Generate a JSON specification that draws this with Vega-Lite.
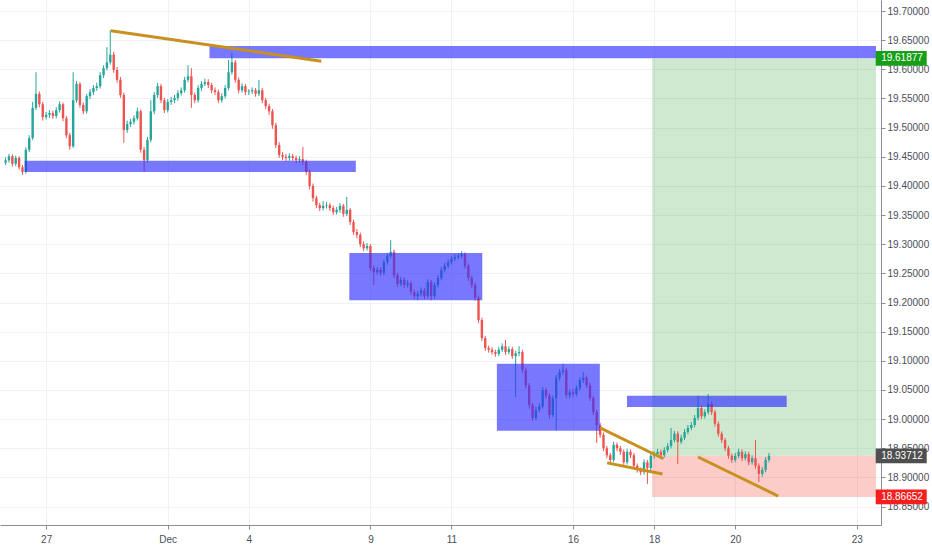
{
  "$schema": "https://vega.github.io/schema/vega-lite/v6.json",
  "width": 881,
  "height": 525,
  "autosize": "none",
  "padding": {"left": 0, "top": 0, "right": 51, "bottom": 25},
  "background": "#ffffff",
  "config": {"view": {"stroke": null}, "font": "Liberation Sans", "axis": {"labelOverlap": false, "labelFlush": false}},
  "datasets": {
    "candles": [
      {"t":-1,"o":19.440,"h":19.449,"l":19.436,"c":19.444},
      {"t":-0.917,"o":19.444,"h":19.455,"l":19.440,"c":19.451},
      {"t":-0.833,"o":19.451,"h":19.454,"l":19.433,"c":19.438},
      {"t":-0.75,"o":19.438,"h":19.452,"l":19.434,"c":19.448},
      {"t":-0.667,"o":19.448,"h":19.451,"l":19.428,"c":19.432},
      {"t":-0.583,"o":19.432,"h":19.436,"l":19.419,"c":19.424},
      {"t":-0.5,"o":19.424,"h":19.466,"l":19.421,"c":19.462},
      {"t":-0.417,"o":19.462,"h":19.487,"l":19.458,"c":19.482},
      {"t":-0.333,"o":19.482,"h":19.544,"l":19.479,"c":19.534},
      {"t":-0.25,"o":19.534,"h":19.595,"l":19.530,"c":19.558},
      {"t":-0.167,"o":19.558,"h":19.562,"l":19.535,"c":19.540},
      {"t":-0.083,"o":19.540,"h":19.544,"l":19.512,"c":19.518},
      {"t":0,"o":19.518,"h":19.527,"l":19.514,"c":19.522},
      {"t":0.083,"o":19.522,"h":19.530,"l":19.517,"c":19.525},
      {"t":0.167,"o":19.525,"h":19.529,"l":19.515,"c":19.520},
      {"t":0.25,"o":19.520,"h":19.535,"l":19.516,"c":19.530},
      {"t":0.333,"o":19.530,"h":19.545,"l":19.526,"c":19.540},
      {"t":0.417,"o":19.540,"h":19.543,"l":19.511,"c":19.516},
      {"t":0.5,"o":19.516,"h":19.520,"l":19.482,"c":19.487},
      {"t":0.583,"o":19.487,"h":19.491,"l":19.462,"c":19.468},
      {"t":0.667,"o":19.468,"h":19.595,"l":19.465,"c":19.547},
      {"t":0.75,"o":19.547,"h":19.580,"l":19.543,"c":19.575},
      {"t":0.833,"o":19.575,"h":19.578,"l":19.534,"c":19.539},
      {"t":0.917,"o":19.539,"h":19.543,"l":19.523,"c":19.528},
      {"t":1,"o":19.528,"h":19.558,"l":19.524,"c":19.554},
      {"t":1.083,"o":19.554,"h":19.566,"l":19.549,"c":19.561},
      {"t":1.167,"o":19.561,"h":19.573,"l":19.556,"c":19.568},
      {"t":1.25,"o":19.568,"h":19.577,"l":19.563,"c":19.571},
      {"t":1.333,"o":19.571,"h":19.595,"l":19.567,"c":19.590},
      {"t":1.417,"o":19.590,"h":19.607,"l":19.585,"c":19.602},
      {"t":1.5,"o":19.602,"h":19.638,"l":19.598,"c":19.612},
      {"t":1.583,"o":19.612,"h":19.667,"l":19.608,"c":19.625},
      {"t":1.667,"o":19.625,"h":19.630,"l":19.594,"c":19.599},
      {"t":1.75,"o":19.599,"h":19.604,"l":19.577,"c":19.582},
      {"t":1.833,"o":19.582,"h":19.587,"l":19.551,"c":19.556},
      {"t":1.917,"o":19.556,"h":19.560,"l":19.474,"c":19.496},
      {"t":2,"o":19.496,"h":19.512,"l":19.491,"c":19.506},
      {"t":2.083,"o":19.506,"h":19.515,"l":19.501,"c":19.510},
      {"t":2.167,"o":19.510,"h":19.521,"l":19.505,"c":19.516},
      {"t":2.25,"o":19.516,"h":19.534,"l":19.512,"c":19.528},
      {"t":2.333,"o":19.528,"h":19.531,"l":19.457,"c":19.462},
      {"t":2.417,"o":19.462,"h":19.467,"l":19.424,"c":19.444},
      {"t":2.5,"o":19.444,"h":19.484,"l":19.440,"c":19.479},
      {"t":2.583,"o":19.479,"h":19.547,"l":19.475,"c":19.528},
      {"t":2.667,"o":19.528,"h":19.561,"l":19.523,"c":19.556},
      {"t":2.75,"o":19.556,"h":19.577,"l":19.551,"c":19.571},
      {"t":2.833,"o":19.571,"h":19.575,"l":19.542,"c":19.547},
      {"t":2.917,"o":19.547,"h":19.551,"l":19.525,"c":19.530},
      {"t":3,"o":19.530,"h":19.549,"l":19.526,"c":19.544},
      {"t":3.083,"o":19.544,"h":19.553,"l":19.539,"c":19.547},
      {"t":3.167,"o":19.547,"h":19.556,"l":19.542,"c":19.551},
      {"t":3.25,"o":19.551,"h":19.564,"l":19.546,"c":19.559},
      {"t":3.333,"o":19.559,"h":19.569,"l":19.555,"c":19.564},
      {"t":3.417,"o":19.564,"h":19.587,"l":19.560,"c":19.582},
      {"t":3.5,"o":19.582,"h":19.607,"l":19.578,"c":19.588},
      {"t":3.583,"o":19.588,"h":19.602,"l":19.534,"c":19.556},
      {"t":3.667,"o":19.556,"h":19.560,"l":19.542,"c":19.547},
      {"t":3.75,"o":19.547,"h":19.573,"l":19.543,"c":19.568},
      {"t":3.833,"o":19.568,"h":19.580,"l":19.563,"c":19.575},
      {"t":3.917,"o":19.575,"h":19.584,"l":19.571,"c":19.578},
      {"t":4,"o":19.578,"h":19.583,"l":19.568,"c":19.573},
      {"t":4.083,"o":19.573,"h":19.577,"l":19.559,"c":19.564},
      {"t":4.167,"o":19.564,"h":19.569,"l":19.556,"c":19.561},
      {"t":4.25,"o":19.561,"h":19.565,"l":19.542,"c":19.547},
      {"t":4.333,"o":19.547,"h":19.559,"l":19.543,"c":19.554},
      {"t":4.417,"o":19.554,"h":19.573,"l":19.550,"c":19.568},
      {"t":4.5,"o":19.568,"h":19.616,"l":19.564,"c":19.595},
      {"t":4.583,"o":19.595,"h":19.628,"l":19.591,"c":19.612},
      {"t":4.667,"o":19.612,"h":19.616,"l":19.577,"c":19.582},
      {"t":4.75,"o":19.582,"h":19.586,"l":19.559,"c":19.564},
      {"t":4.833,"o":19.564,"h":19.576,"l":19.560,"c":19.571},
      {"t":4.917,"o":19.571,"h":19.575,"l":19.556,"c":19.561},
      {"t":5,"o":19.561,"h":19.566,"l":19.556,"c":19.562},
      {"t":5.083,"o":19.562,"h":19.569,"l":19.558,"c":19.564},
      {"t":5.167,"o":19.564,"h":19.568,"l":19.553,"c":19.558},
      {"t":5.25,"o":19.558,"h":19.582,"l":19.554,"c":19.564},
      {"t":5.333,"o":19.564,"h":19.568,"l":19.542,"c":19.547},
      {"t":5.417,"o":19.547,"h":19.551,"l":19.532,"c":19.537},
      {"t":5.5,"o":19.537,"h":19.541,"l":19.522,"c":19.528},
      {"t":5.583,"o":19.528,"h":19.532,"l":19.498,"c":19.504},
      {"t":5.667,"o":19.504,"h":19.508,"l":19.465,"c":19.470},
      {"t":5.75,"o":19.470,"h":19.475,"l":19.448,"c":19.453},
      {"t":5.833,"o":19.453,"h":19.458,"l":19.444,"c":19.450},
      {"t":5.917,"o":19.450,"h":19.455,"l":19.442,"c":19.448},
      {"t":6,"o":19.448,"h":19.456,"l":19.443,"c":19.451},
      {"t":6.083,"o":19.451,"h":19.455,"l":19.443,"c":19.448},
      {"t":6.167,"o":19.448,"h":19.452,"l":19.439,"c":19.444},
      {"t":6.25,"o":19.444,"h":19.451,"l":19.440,"c":19.446},
      {"t":6.333,"o":19.446,"h":19.467,"l":19.436,"c":19.441},
      {"t":6.417,"o":19.441,"h":19.445,"l":19.419,"c":19.424},
      {"t":6.5,"o":19.424,"h":19.428,"l":19.394,"c":19.400},
      {"t":6.583,"o":19.400,"h":19.404,"l":19.373,"c":19.379},
      {"t":6.667,"o":19.379,"h":19.383,"l":19.362,"c":19.367},
      {"t":6.75,"o":19.367,"h":19.371,"l":19.357,"c":19.362},
      {"t":6.833,"o":19.362,"h":19.374,"l":19.358,"c":19.366},
      {"t":6.917,"o":19.366,"h":19.372,"l":19.361,"c":19.367},
      {"t":7,"o":19.367,"h":19.371,"l":19.357,"c":19.362},
      {"t":7.083,"o":19.362,"h":19.366,"l":19.350,"c":19.355},
      {"t":7.167,"o":19.355,"h":19.364,"l":19.351,"c":19.359},
      {"t":7.25,"o":19.359,"h":19.370,"l":19.354,"c":19.366},
      {"t":7.333,"o":19.366,"h":19.369,"l":19.347,"c":19.352},
      {"t":7.417,"o":19.352,"h":19.381,"l":19.348,"c":19.359},
      {"t":7.5,"o":19.359,"h":19.362,"l":19.333,"c":19.338},
      {"t":7.583,"o":19.338,"h":19.342,"l":19.316,"c":19.321},
      {"t":7.667,"o":19.321,"h":19.326,"l":19.310,"c":19.316},
      {"t":7.75,"o":19.316,"h":19.320,"l":19.295,"c":19.300},
      {"t":7.833,"o":19.300,"h":19.305,"l":19.288,"c":19.293},
      {"t":7.917,"o":19.293,"h":19.302,"l":19.289,"c":19.297},
      {"t":8,"o":19.297,"h":19.300,"l":19.254,"c":19.259},
      {"t":8.083,"o":19.259,"h":19.263,"l":19.230,"c":19.252},
      {"t":8.167,"o":19.252,"h":19.261,"l":19.247,"c":19.256},
      {"t":8.25,"o":19.256,"h":19.260,"l":19.246,"c":19.251},
      {"t":8.333,"o":19.251,"h":19.274,"l":19.247,"c":19.269},
      {"t":8.417,"o":19.269,"h":19.285,"l":19.265,"c":19.280},
      {"t":8.5,"o":19.280,"h":19.307,"l":19.276,"c":19.287},
      {"t":8.583,"o":19.287,"h":19.291,"l":19.242,"c":19.247},
      {"t":8.667,"o":19.247,"h":19.251,"l":19.227,"c":19.232},
      {"t":8.75,"o":19.232,"h":19.244,"l":19.228,"c":19.239},
      {"t":8.833,"o":19.239,"h":19.243,"l":19.225,"c":19.230},
      {"t":8.917,"o":19.230,"h":19.238,"l":19.226,"c":19.233},
      {"t":9,"o":19.233,"h":19.237,"l":19.213,"c":19.218},
      {"t":9.083,"o":19.218,"h":19.222,"l":19.206,"c":19.211},
      {"t":9.167,"o":19.211,"h":19.220,"l":19.204,"c":19.215},
      {"t":9.25,"o":19.215,"h":19.226,"l":19.210,"c":19.221},
      {"t":9.333,"o":19.221,"h":19.225,"l":19.206,"c":19.211},
      {"t":9.417,"o":19.211,"h":19.240,"l":19.207,"c":19.235},
      {"t":9.5,"o":19.235,"h":19.239,"l":19.204,"c":19.211},
      {"t":9.583,"o":19.211,"h":19.235,"l":19.207,"c":19.230},
      {"t":9.667,"o":19.230,"h":19.247,"l":19.226,"c":19.242},
      {"t":9.75,"o":19.242,"h":19.261,"l":19.238,"c":19.256},
      {"t":9.833,"o":19.256,"h":19.268,"l":19.252,"c":19.263},
      {"t":9.917,"o":19.263,"h":19.274,"l":19.259,"c":19.269},
      {"t":10,"o":19.269,"h":19.280,"l":19.265,"c":19.275},
      {"t":10.083,"o":19.275,"h":19.283,"l":19.271,"c":19.278},
      {"t":10.167,"o":19.278,"h":19.285,"l":19.274,"c":19.280},
      {"t":10.25,"o":19.280,"h":19.288,"l":19.276,"c":19.283},
      {"t":10.333,"o":19.283,"h":19.286,"l":19.258,"c":19.263},
      {"t":10.417,"o":19.263,"h":19.267,"l":19.237,"c":19.242},
      {"t":10.5,"o":19.242,"h":19.246,"l":19.225,"c":19.230},
      {"t":10.583,"o":19.230,"h":19.234,"l":19.203,"c":19.208},
      {"t":10.667,"o":19.208,"h":19.212,"l":19.165,"c":19.170},
      {"t":10.75,"o":19.170,"h":19.174,"l":19.134,"c":19.139},
      {"t":10.833,"o":19.139,"h":19.143,"l":19.117,"c":19.122},
      {"t":10.917,"o":19.122,"h":19.126,"l":19.114,"c":19.119},
      {"t":11,"o":19.119,"h":19.123,"l":19.111,"c":19.115},
      {"t":11.083,"o":19.115,"h":19.119,"l":19.107,"c":19.112},
      {"t":11.167,"o":19.112,"h":19.124,"l":19.108,"c":19.119},
      {"t":11.25,"o":19.119,"h":19.130,"l":19.115,"c":19.125},
      {"t":11.333,"o":19.125,"h":19.136,"l":19.110,"c":19.115},
      {"t":11.417,"o":19.115,"h":19.125,"l":19.111,"c":19.120},
      {"t":11.5,"o":19.120,"h":19.124,"l":19.103,"c":19.108},
      {"t":11.583,"o":19.108,"h":19.117,"l":19.038,"c":19.113},
      {"t":11.667,"o":19.113,"h":19.125,"l":19.108,"c":19.115},
      {"t":11.75,"o":19.115,"h":19.119,"l":19.079,"c":19.084},
      {"t":11.833,"o":19.084,"h":19.088,"l":19.052,"c":19.058},
      {"t":11.917,"o":19.058,"h":19.062,"l":19.018,"c":19.024},
      {"t":12,"o":19.024,"h":19.028,"l":18.997,"c":19.002},
      {"t":12.083,"o":19.002,"h":19.021,"l":18.998,"c":19.016},
      {"t":12.167,"o":19.016,"h":19.027,"l":19.012,"c":19.022},
      {"t":12.25,"o":19.022,"h":19.055,"l":19.018,"c":19.050},
      {"t":12.333,"o":19.050,"h":19.054,"l":19.035,"c":19.040},
      {"t":12.417,"o":19.040,"h":19.044,"l":19.001,"c":19.007},
      {"t":12.5,"o":19.007,"h":19.041,"l":19.003,"c":19.036},
      {"t":12.583,"o":19.036,"h":19.076,"l":18.981,"c":19.071},
      {"t":12.667,"o":19.071,"h":19.086,"l":19.066,"c":19.081},
      {"t":12.75,"o":19.081,"h":19.095,"l":19.076,"c":19.084},
      {"t":12.833,"o":19.084,"h":19.088,"l":19.036,"c":19.041},
      {"t":12.917,"o":19.041,"h":19.051,"l":19.036,"c":19.046},
      {"t":13,"o":19.046,"h":19.051,"l":19.038,"c":19.043},
      {"t":13.083,"o":19.043,"h":19.058,"l":19.039,"c":19.053},
      {"t":13.167,"o":19.053,"h":19.072,"l":19.049,"c":19.067},
      {"t":13.25,"o":19.067,"h":19.081,"l":19.062,"c":19.071},
      {"t":13.333,"o":19.071,"h":19.075,"l":19.053,"c":19.058},
      {"t":13.417,"o":19.058,"h":19.062,"l":19.031,"c":19.036},
      {"t":13.5,"o":19.036,"h":19.040,"l":19.007,"c":19.012},
      {"t":13.583,"o":19.012,"h":19.016,"l":18.959,"c":18.990},
      {"t":13.667,"o":18.990,"h":18.994,"l":18.968,"c":18.973},
      {"t":13.75,"o":18.973,"h":18.977,"l":18.945,"c":18.950},
      {"t":13.833,"o":18.950,"h":18.954,"l":18.933,"c":18.938},
      {"t":13.917,"o":18.938,"h":18.942,"l":18.925,"c":18.930},
      {"t":14,"o":18.930,"h":18.961,"l":18.926,"c":18.956},
      {"t":14.083,"o":18.956,"h":18.960,"l":18.945,"c":18.950},
      {"t":14.167,"o":18.950,"h":18.954,"l":18.939,"c":18.944},
      {"t":14.25,"o":18.944,"h":18.948,"l":18.921,"c":18.926},
      {"t":14.333,"o":18.926,"h":18.949,"l":18.922,"c":18.944},
      {"t":14.417,"o":18.944,"h":18.948,"l":18.933,"c":18.938},
      {"t":14.5,"o":18.938,"h":18.942,"l":18.915,"c":18.920},
      {"t":14.583,"o":18.920,"h":18.924,"l":18.908,"c":18.913},
      {"t":14.667,"o":18.913,"h":18.917,"l":18.904,"c":18.909},
      {"t":14.75,"o":18.909,"h":18.931,"l":18.905,"c":18.926},
      {"t":14.833,"o":18.926,"h":18.930,"l":18.889,"c":18.916},
      {"t":14.917,"o":18.916,"h":18.942,"l":18.912,"c":18.937},
      {"t":15,"o":18.937,"h":18.945,"l":18.932,"c":18.940},
      {"t":15.083,"o":18.940,"h":18.949,"l":18.935,"c":18.944},
      {"t":15.167,"o":18.944,"h":18.948,"l":18.933,"c":18.938},
      {"t":15.25,"o":18.938,"h":18.952,"l":18.934,"c":18.947},
      {"t":15.333,"o":18.947,"h":18.959,"l":18.943,"c":18.954},
      {"t":15.417,"o":18.954,"h":18.985,"l":18.950,"c":18.964},
      {"t":15.5,"o":18.964,"h":18.980,"l":18.960,"c":18.975},
      {"t":15.583,"o":18.975,"h":18.979,"l":18.923,"c":18.961},
      {"t":15.667,"o":18.961,"h":18.973,"l":18.957,"c":18.968},
      {"t":15.75,"o":18.968,"h":18.983,"l":18.964,"c":18.978},
      {"t":15.833,"o":18.978,"h":18.990,"l":18.974,"c":18.985},
      {"t":15.917,"o":18.985,"h":18.995,"l":18.981,"c":18.990},
      {"t":16,"o":18.990,"h":19.007,"l":18.986,"c":19.002},
      {"t":16.083,"o":19.002,"h":19.040,"l":18.998,"c":19.019},
      {"t":16.167,"o":19.019,"h":19.023,"l":19.000,"c":19.005},
      {"t":16.25,"o":19.005,"h":19.017,"l":19.001,"c":19.012},
      {"t":16.333,"o":19.012,"h":19.043,"l":19.008,"c":19.026},
      {"t":16.417,"o":19.026,"h":19.030,"l":19.007,"c":19.012},
      {"t":16.5,"o":19.012,"h":19.016,"l":18.987,"c":18.992},
      {"t":16.583,"o":18.992,"h":18.996,"l":18.970,"c":18.975},
      {"t":16.667,"o":18.975,"h":18.979,"l":18.959,"c":18.964},
      {"t":16.75,"o":18.964,"h":18.968,"l":18.945,"c":18.950},
      {"t":16.833,"o":18.950,"h":18.954,"l":18.932,"c":18.937},
      {"t":16.917,"o":18.937,"h":18.941,"l":18.925,"c":18.930},
      {"t":17,"o":18.930,"h":18.942,"l":18.926,"c":18.937},
      {"t":17.083,"o":18.937,"h":18.949,"l":18.933,"c":18.944},
      {"t":17.167,"o":18.944,"h":18.948,"l":18.928,"c":18.933},
      {"t":17.25,"o":18.933,"h":18.945,"l":18.929,"c":18.940},
      {"t":17.333,"o":18.940,"h":18.944,"l":18.921,"c":18.926},
      {"t":17.417,"o":18.926,"h":18.938,"l":18.922,"c":18.933},
      {"t":17.5,"o":18.933,"h":18.964,"l":18.915,"c":18.920},
      {"t":17.583,"o":18.920,"h":18.924,"l":18.892,"c":18.906},
      {"t":17.667,"o":18.906,"h":18.918,"l":18.901,"c":18.913},
      {"t":17.75,"o":18.913,"h":18.935,"l":18.909,"c":18.930},
      {"t":17.833,"o":18.930,"h":18.942,"l":18.926,"c":18.937}
    ],
    "position": [
      {"x1":14.95,"x2":20.473,"p1":18.93712,"p2":19.61877,"kind":"target"},
      {"x1":14.95,"x2":20.473,"p1":18.86652,"p2":18.93712,"kind":"stop"}
    ],
    "boxes": [
      {"x1":4.03,"x2":20.473,"p1":19.619,"p2":19.640},
      {"x1":-0.53,"x2":7.64,"p1":19.424,"p2":19.443},
      {"x1":7.48,"x2":10.76,"p1":19.204,"p2":19.285},
      {"x1":11.12,"x2":13.66,"p1":18.980,"p2":19.095},
      {"x1":14.33,"x2":18.27,"p1":19.021,"p2":19.040}
    ],
    "trend": [
      {"x1":1.595,"p1":19.666,"x2":6.79,"p2":19.614},
      {"x1":13.668,"p1":18.985,"x2":15.23,"p2":18.932},
      {"x1":13.84,"p1":18.925,"x2":15.205,"p2":18.906},
      {"x1":16.083,"p1":18.935,"x2":18.06,"p2":18.868}
    ],
    "badges": [
      {"p":19.61877,"label":"19.61877","col":"#17a017"},
      {"p":18.93712,"label":"18.93712","col":"#4f4f4f"},
      {"p":18.86652,"label":"18.86652","col":"#f71e1e"}
    ]
  },
  "layer": [
    {
      "data": {"name": "position"},
      "mark": {"type": "rect"},
      "encoding": {
        "x": {"field": "x1", "type": "quantitative",
          "scale": {"domain": [-1.0146, 20.473], "nice": false, "zero": false},
          "axis": {"orient": "bottom", "values": [0, 3, 5, 8, 10, 13, 15, 17, 20], "tickCount": 30,
            "labelExpr": "datum.value == 0 ? '27' : datum.value == 3 ? 'Dec' : datum.value == 5 ? '4' : datum.value == 8 ? '9' : datum.value == 10 ? '11' : datum.value == 13 ? '16' : datum.value == 15 ? '18' : datum.value == 17 ? '20' : '23'",
            "title": null, "grid": true, "gridColor": "#eef1f6", "gridWidth": 1,
            "domainColor": "#8a8d96", "tickColor": "#8a8d96", "tickSize": 4,
            "labelColor": "#4a4e5a", "labelFontSize": 10, "labelPadding": 5, "labelFlush": false}},
        "x2": {"field": "x2"},
        "y": {"field": "p1", "type": "quantitative",
          "scale": {"domain": [18.8184, 19.7189], "nice": false, "zero": false},
          "axis": {"orient": "right", "values": [18.85, 18.9, 18.95, 19.0, 19.05, 19.1, 19.15, 19.2, 19.25, 19.3, 19.35, 19.4, 19.45, 19.5, 19.55, 19.6, 19.65, 19.7], "tickCount": 40,
            "format": ".5f", "title": null, "grid": true, "gridColor": "#eef1f6", "gridWidth": 1,
            "domainColor": "#8a8d96", "tickColor": "#8a8d96", "tickSize": 4,
            "labelColor": "#4a4e5a", "labelFontSize": 10, "labelPadding": 2, "labelFlush": false, "labelOverlap": false}},
        "y2": {"field": "p2"},
        "color": {"field": "kind", "type": "nominal", "scale": {"domain": ["target", "stop"], "range": ["#4caf50", "#f44336"]}, "legend": null},
        "opacity": {"value": 0.27}
      }
    },
    {
      "mark": {"type": "rule", "color": "#ef5350", "strokeDash": [1, 2], "strokeWidth": 1, "opacity": 0.9},
      "encoding": {"y": {"datum": 18.93712, "type": "quantitative"}}
    },
    {
      "data": {"name": "candles"},
      "mark": {"type": "rule", "strokeWidth": 1},
      "encoding": {
        "x": {"field": "t", "type": "quantitative"},
        "y": {"field": "l", "type": "quantitative"},
        "y2": {"field": "h"},
        "color": {"condition": {"test": "datum.c >= datum.o", "value": "#26a69a"}, "value": "#ef5350"}
      }
    },
    {
      "data": {"name": "candles"},
      "mark": {"type": "bar", "size": 2.4},
      "encoding": {
        "x": {"field": "t", "type": "quantitative"},
        "y": {"field": "o", "type": "quantitative"},
        "y2": {"field": "c"},
        "color": {"condition": {"test": "datum.c >= datum.o", "value": "#26a69a"}, "value": "#ef5350"}
      }
    },
    {
      "data": {"name": "boxes"},
      "mark": {"type": "rect", "color": "#2f2fff", "opacity": 0.65},
      "encoding": {
        "x": {"field": "x1", "type": "quantitative"},
        "x2": {"field": "x2"},
        "y": {"field": "p1", "type": "quantitative"},
        "y2": {"field": "p2"}
      }
    },
    {
      "mark": {"type": "rule", "color": "#6a6d78", "strokeDash": [4, 2], "strokeWidth": 1.5},
      "encoding": {
        "x": {"datum": 14.95, "type": "quantitative"},
        "x2": {"datum": 20.473},
        "y": {"datum": 18.93712, "type": "quantitative"}
      }
    },
    {
      "data": {"name": "trend"},
      "mark": {"type": "rule", "color": "#c8901e", "strokeWidth": 3},
      "encoding": {
        "x": {"field": "x1", "type": "quantitative"},
        "x2": {"field": "x2"},
        "y": {"field": "p1", "type": "quantitative"},
        "y2": {"field": "p2"}
      }
    },
    {
      "data": {"name": "badges"},
      "mark": {"type": "point", "filled": true, "opacity": 1, "strokeWidth": 0, "size": 2601,
        "shape": "M-1,-0.29L1,-0.29L1,0.29L-1,0.29Z"},
      "encoding": {
        "x": {"datum": 21.095, "type": "quantitative"},
        "y": {"field": "p", "type": "quantitative"},
        "color": {"field": "col", "type": "nominal", "scale": null, "legend": null}
      }
    },
    {
      "data": {"name": "badges"},
      "mark": {"type": "text", "align": "left", "baseline": "middle", "fontSize": 10, "color": "#ffffff"},
      "encoding": {
        "x": {"datum": 20.6, "type": "quantitative"},
        "y": {"field": "p", "type": "quantitative"},
        "text": {"field": "label"}
      }
    }
  ]
}
